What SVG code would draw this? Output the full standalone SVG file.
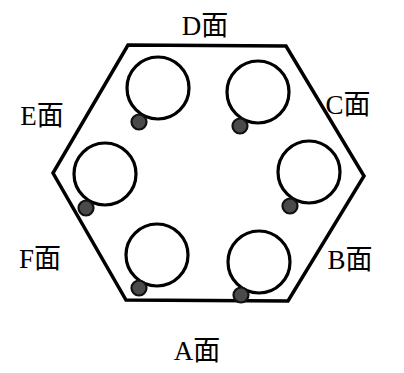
<svg xmlns="http://www.w3.org/2000/svg" width="404" height="373" viewBox="0 0 404 373">
<defs>
<style>
.hex{fill:none;stroke:#000;stroke-width:3.5;stroke-linejoin:miter}
.ring{fill:none;stroke:#000;stroke-width:3.2}
.dot{fill:#4a4a4a;stroke:#111;stroke-width:2.2}
.lbl{font-family:"Liberation Serif","Noto Sans CJK SC",serif;font-size:27px;fill:#000}
</style>
</defs>
<rect width="404" height="373" fill="#fff"/>
<g id="hexagon">
<polygon class="hex" points="128,45 286,46 364,176 288,301 126,300 53,173"/>
</g>
<g id="hole-topleft"><circle class="ring" cx="158" cy="88" r="31"/><circle class="dot" cx="139" cy="122" r="7.5"/></g>
<g id="hole-topright"><circle class="ring" cx="258" cy="92" r="31"/><circle class="dot" cx="240" cy="126" r="7.5"/></g>
<g id="hole-left"><circle class="ring" cx="105" cy="174" r="31"/><circle class="dot" cx="86" cy="208" r="7.5"/></g>
<g id="hole-right"><circle class="ring" cx="309" cy="172" r="31"/><circle class="dot" cx="290" cy="206" r="7.5"/></g>
<g id="hole-bottomleft"><circle class="ring" cx="157" cy="255" r="31"/><circle class="dot" cx="139" cy="288" r="7.5"/></g>
<g id="hole-bottomright"><circle class="ring" cx="259" cy="262" r="31"/><circle class="dot" cx="241" cy="295" r="7.5"/></g>
<g id="connectors"></g>
<g id="labels">
<text class="lbl" x="205" y="35" text-anchor="middle">D面</text>
<text class="lbl" x="348" y="114" text-anchor="middle">C面</text>
<text class="lbl" x="42" y="125" text-anchor="middle">E面</text>
<text class="lbl" x="40" y="268" text-anchor="middle">F面</text>
<text class="lbl" x="350" y="269" text-anchor="middle">B面</text>
<text class="lbl" x="197" y="360" text-anchor="middle">A面</text>
</g>
</svg>
